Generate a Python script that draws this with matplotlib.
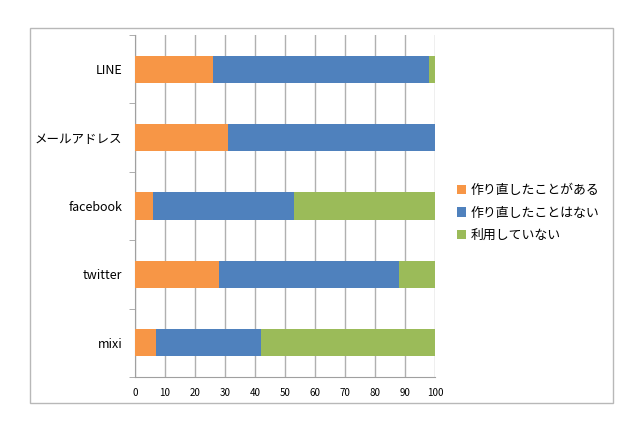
import numpy as np
from matplotlib import pyplot as plt
from matplotlib.patches import Rectangle

plt.rcParams['font.family'] = ['Noto Sans CJK JP', 'DejaVu Sans']

categories = ['LINE', 'メールアドレス', 'facebook', 'twitter', 'mixi']
remade = [26, 31, 6, 28, 7]
not_remade = [72, 69, 47, 60, 35]
not_used = [2, 0, 47, 12, 58]
series_labels = ['作り直したことがある', '作り直したことはない', '利用していない']
colors = ['#F79646', '#4F81BD', '#9BBB59']
xticks = list(range(0, 101, 10))

fig = plt.figure(figsize=(6.4, 4.26), dpi=100)
fig.patches.append(Rectangle((30 / 640, 1 - 403 / 426), 583 / 640, 375 / 426,
                             transform=fig.transFigure, fill=False,
                             edgecolor='#b8b8b8', linewidth=1.0))
ax = fig.add_axes([135 / 640, 1 - 377 / 426, 300 / 640, 342 / 426])

y = np.arange(len(categories))
left = np.zeros(len(categories))
for vals, label, color in zip([remade, not_remade, not_used], series_labels, colors):
    ax.barh(y, vals, left=left, height=0.4, color=color, label=label, zorder=3)
    left += np.array(vals)

ax.set_xlim(0, 100)
ax.set_ylim(len(categories) - 0.5, -0.5)
ax.set_xticks(xticks)
ax.tick_params(axis='x', length=0, labelsize=7, pad=8)
ax.grid(axis='x', color='#b0b0b0', linewidth=1.0, zorder=0)

ax.set_yticks(y)
ax.set_yticklabels(categories, fontsize=9)
ax.set_yticks(np.arange(len(categories) + 1) - 0.5, minor=True)
ax.tick_params(axis='y', which='major', length=0, pad=9)
ax.tick_params(axis='y', which='minor', length=4, color='#a0a0a0')

for side in ['top', 'right']:
    ax.spines[side].set_visible(False)
for side in ['left', 'bottom']:
    ax.spines[side].set_color('#a0a0a0')

fig.legend(loc='center left', bbox_to_anchor=(445 / 640, 1 - 213 / 426),
           frameon=False, fontsize=9.3, handlelength=0.7, handleheight=0.7,
           handletextpad=0.4, labelspacing=0.75)

fig.savefig('out.png')
